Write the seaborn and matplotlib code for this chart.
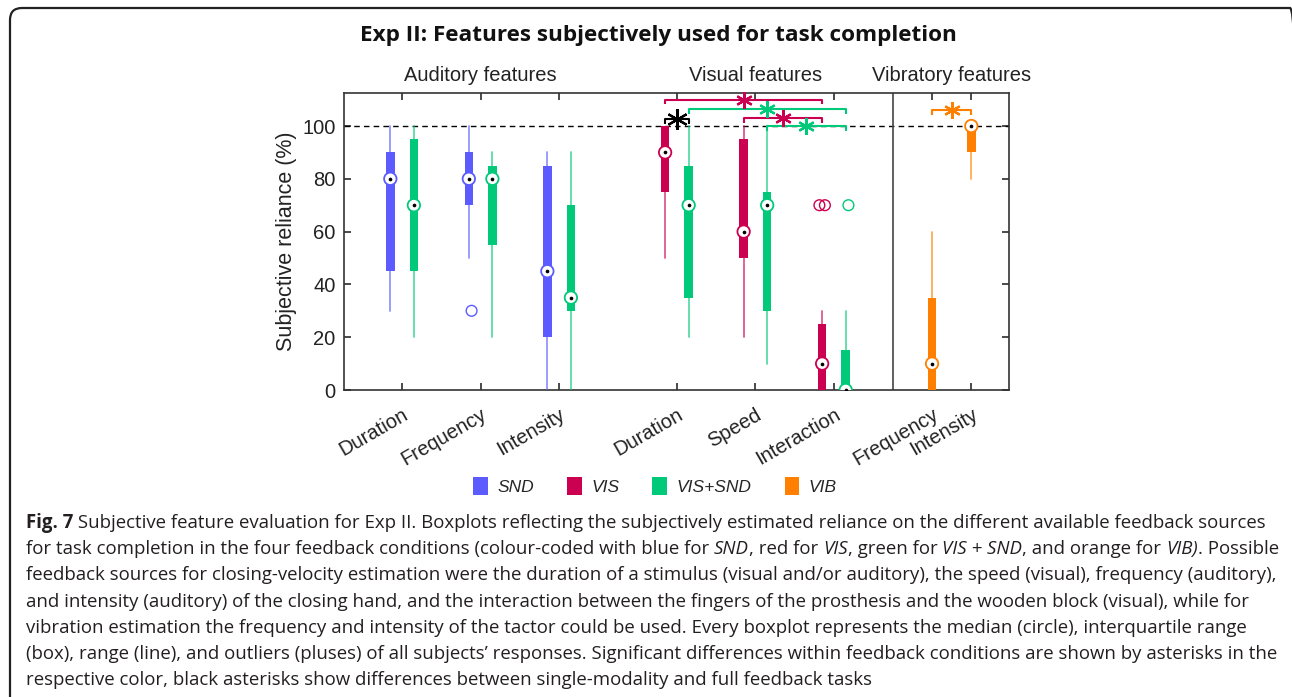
import numpy as np
import pandas as pd
import matplotlib
matplotlib.use('Agg')
import matplotlib.pyplot as plt
import seaborn as sns
from matplotlib.patches import Patch, FancyBboxPatch
from matplotlib.transforms import ScaledTranslation, IdentityTransform

# ---------------- data ----------------
features = ['Duration', 'Frequency', 'Intensity',
            'Duration', 'Speed', 'Interaction',
            'Frequency', 'Intensity']
sections = ['Auditory features', 'Visual features', 'Vibratory features']
groups = ['SND', 'VIS', 'VIS+SND', 'VIB']

# SND (auditory only)
snd_feat = [0, 1, 2]
snd_lo = [30, 50, 0]
snd_q1 = [45, 70, 20]
snd_med = [80, 80, 45]
snd_q3 = [90, 90, 85]
snd_hi = [100, 100, 90]
snd_out = [[], [30], []]

# VIS (visual only)
vis_feat = [3, 4, 5]
vis_lo = [50, 20, 0]
vis_q1 = [75, 50, 0]
vis_med = [90, 60, 10]
vis_q3 = [100, 95, 25]
vis_hi = [100, 100, 30]
vis_out = [[], [], [70, 70]]

# VIS+SND (full feedback)
vs_feat = [0, 1, 2, 3, 4, 5]
vs_lo = [20, 20, 0, 20, 10, 0]
vs_q1 = [45, 55, 30, 35, 30, 0]
vs_med = [70, 80, 35, 70, 70, 0]
vs_q3 = [95, 85, 70, 85, 75, 15]
vs_hi = [100, 90, 90, 100, 100, 30]
vs_out = [[], [], [], [], [], [70]]

# VIB (vibration)
vib_feat = [6, 7]
vib_lo = [0, 80]
vib_q1 = [0, 90]
vib_med = [10, 100]
vib_q3 = [35, 100]
vib_hi = [60, 100]
vib_out = [[], []]

# significance: colour key, (feature, group) a, (feature, group) b, level
sig_color = ['black', 'VIS', 'VIS+SND', 'VIS', 'VIS+SND', 'VIB']
sig_a = [(3, 'VIS'), (3, 'VIS'), (3, 'VIS+SND'), (4, 'VIS'), (4, 'VIS+SND'), (6, 'VIB')]
sig_b = [(3, 'VIS+SND'), (5, 'VIS'), (5, 'VIS+SND'), (5, 'VIS'), (5, 'VIS+SND'), (7, 'VIB')]
sig_level = [102.6, 110, 106.4, 103, 100, 106]

caption = [
    [("Fig. 7", 'b'), (" Subjective feature evaluation for Exp II. Boxplots reflecting the subjectively "
                       "estimated reliance on the different available feedback sources", 'n')],
    [("for task completion in the four feedback conditions (colour-coded with blue for ", 'n'),
     ("SND", 'i'), (", red for ", 'n'), ("VIS", 'i'), (", green for ", 'n'), ("VIS + SND", 'i'),
     (", and orange for ", 'n'), ("VIB)", 'i'), (". Possible", 'n')],
    [("feedback sources for closing-velocity estimation were the duration of a stimulus (visual "
      "and/or auditory), the speed (visual), frequency (auditory),", 'n')],
    [("and intensity (auditory) of the closing hand, and the interaction between the fingers of "
      "the prosthesis and the wooden block (visual), while for", 'n')],
    [("vibration estimation the frequency and intensity of the tactor could be used. Every "
      "boxplot represents the median (circle), interquartile range", 'n')],
    [("(box), range (line), and outliers (pluses) of all subjects\u2019 responses. Significant "
      "differences within feedback conditions are shown by asterisks in the", 'n')],
    [("respective color, black asterisks show differences between single-modality and full "
      "feedback tasks", 'n')],
]

# ---------------- style / layout ----------------
palette = {'SND': '#5b5bff', 'VIS': '#cc0050', 'VIS+SND': '#00c97a', 'VIB': '#ff7f00',
           'black': 'black'}
feat_x = [1, 2, 3, 4.5, 5.5, 6.5, 7.75, 8.25]
group_off = {'SND': -0.15, 'VIS': -0.15, 'VIS+SND': 0.15, 'VIB': 0.0}

sns.set_theme(style='white')
plt.rcParams['font.family'] = ['Liberation Sans', 'DejaVu Sans']

W, H = 1292, 697
fig = plt.figure(figsize=(W / 100, H / 100), dpi=100)
ax = fig.add_axes([344 / W, 1 - 390 / H, (1009 - 344) / W, (390 - 93) / H])

rows = []
data = {
    'SND': (snd_feat, snd_lo, snd_q1, snd_med, snd_q3, snd_hi, snd_out),
    'VIS': (vis_feat, vis_lo, vis_q1, vis_med, vis_q3, vis_hi, vis_out),
    'VIS+SND': (vs_feat, vs_lo, vs_q1, vs_med, vs_q3, vs_hi, vs_out),
    'VIB': (vib_feat, vib_lo, vib_q1, vib_med, vib_q3, vib_hi, vib_out),
}
for g, (fe, lo, q1, md, q3, hi, out) in data.items():
    for i in range(len(fe)):
        rows.append(dict(group=g, feat=fe[i], x=feat_x[fe[i]] + group_off[g],
                         lo=lo[i], q1=q1[i], med=md[i], q3=q3[i], hi=hi[i], out=out[i]))
df = pd.DataFrame(rows)

# boxes + whiskers
for g, sub in df.groupby('group', sort=False):
    stats = [dict(med=r.med, q1=r.q1, q3=r.q3, whislo=r.lo, whishi=r.hi, fliers=[])
             for r in sub.itertuples()]
    c = palette[g]
    ax.bxp(stats, positions=sub['x'].tolist(), widths=0.11, patch_artist=True,
           showcaps=False, showfliers=False, manage_ticks=False,
           boxprops=dict(facecolor=c, edgecolor=c, linewidth=0),
           whiskerprops=dict(color=c, linewidth=1.3, alpha=0.65),
           medianprops=dict(linewidth=0), zorder=3)

# outliers (open circles, slightly jittered like MATLAB)
out_rows = []
for r in df.itertuples():
    n = len(r.out)
    for k, v in enumerate(r.out):
        dx = 0.035 if n == 1 else (k - (n - 1) / 2) * 0.07
        out_rows.append(dict(group=r.group, x=r.x + dx, y=v))
dfo = pd.DataFrame(out_rows)
sns.scatterplot(data=dfo, x='x', y='y', hue='group', palette=palette, s=60,
                marker='o', legend=False, ax=ax, zorder=4)
co = ax.collections[-1]
co.set_edgecolors(co.get_facecolors())
co.set_facecolors('none')
co.set_linewidth(1.0)

# median markers: white circle with coloured edge, black centre dot
sns.scatterplot(data=df, x='x', y='med', hue='group', palette=palette, s=80,
                marker='o', legend=False, ax=ax, zorder=5)
cm = ax.collections[-1]
cm.set_edgecolors(cm.get_facecolors())
cm.set_facecolors('white')
cm.set_linewidth(1.3)
sns.scatterplot(data=df, x='x', y='med', color='black', s=7, linewidth=0,
                legend=False, ax=ax, zorder=6)

# reference line at 100 % and section divider
ax.axhline(100, color='black', lw=1.0, ls=(0, (4, 3)), zorder=1)
ax.axvline(7.25, color='#444444', lw=1.2, zorder=1)

# significance brackets
xlook = df.set_index(['feat', 'group'])['x']
for ck, a, b, lev in zip(sig_color, sig_a, sig_b, sig_level):
    c = palette[ck]
    xa, xb = xlook[a], xlook[b]
    drop = 1.8
    ax.plot([xa, xa, xb, xb], [lev - drop, lev, lev, lev - drop], color=c, lw=1.5,
            zorder=7, clip_on=False, solid_capstyle='butt')
    ms = 15 if ck == 'black' else 12
    ax.plot([(xa + xb) / 2], [lev], marker=(6, 2, 0), ms=ms, mew=1.6, color=c,
            zorder=8, clip_on=False)

# axes
ax.set_xlim(0.26, 8.73)
ax.set_ylim(0, 112.5)
ax.set_yticks(range(0, 101, 20))
ax.set_xticks(feat_x)
ax.set_xticklabels(features, rotation=30, ha='right', rotation_mode='anchor', fontsize=14.5)
off = ScaledTranslation(20 / 100, 0, fig.dpi_scale_trans)
for lab in ax.get_xticklabels():
    lab.set_transform(lab.get_transform() + off)
ax.tick_params(axis='x', direction='in', top=True, bottom=True, length=5, pad=11,
               color='#333333', labelcolor='#222222')
ax.tick_params(axis='y', direction='in', left=True, right=True, length=5, pad=6,
               labelsize=14.5, color='#333333', labelcolor='#222222')
for s in ax.spines.values():
    s.set_color('#333333')
    s.set_linewidth(1.2)
ax.set_ylabel('Subjective reliance (%)', fontsize=15.5, color='#222222', labelpad=4)
ax.set_xlabel('')

sec_x = [2, 5.5, 8.0]
for sx, name in zip(sec_x, sections):
    ax.text(sx, 119.3, name, ha='center', va='center', fontsize=14.5, color='#222222',
            clip_on=False)

fig.text(658 / W, 1 - 36 / H, 'Exp II: Features subjectively used for task completion',
         ha='center', va='center', fontsize=16.2, fontweight='bold', family='Open Sans',
         color='#111111')

# legend
handles = [Patch(facecolor=palette[g], edgecolor='none') for g in groups]
fig.legend(handles, groups, loc='center', bbox_to_anchor=(655 / W, 1 - 486 / H), ncol=4,
           frameon=False, handlelength=0.85, handleheight=1.3, handletextpad=0.55,
           columnspacing=1.9, prop=dict(size=12.5, style='italic'))

# caption
cap_color = '#231f20'
cap_size = 13.4
renderer = fig.canvas.get_renderer()


def text_kw(style):
    kw = dict(fontsize=cap_size, family='Open Sans', color=cap_color, va='center', ha='left')
    if style == 'b':
        kw['fontweight'] = 'bold'
    if style == 'i':
        kw['fontstyle'] = 'italic'
    return kw


def advance(txt, style):
    t = fig.text(0, 0, '|' + txt + '|', **text_kw(style))
    w1 = t.get_window_extent(renderer).width
    t.set_text('||')
    w2 = t.get_window_extent(renderer).width
    t.remove()
    return w1 - w2


for i, line in enumerate(caption):
    y = 523 + i * 26.2
    x = 26
    for txt, st in line:
        fig.text(x / W, 1 - y / H, txt, **text_kw(st))
        x += advance(txt, st)

# rounded frame around the figure
frame = FancyBboxPatch((10, -30), 1292, 689 + 30, boxstyle='round,pad=0,rounding_size=12',
                       transform=IdentityTransform(), fill=False, edgecolor='#222222',
                       linewidth=1.6)
fig.patches.append(frame)

fig.savefig('out.png', dpi=100)
